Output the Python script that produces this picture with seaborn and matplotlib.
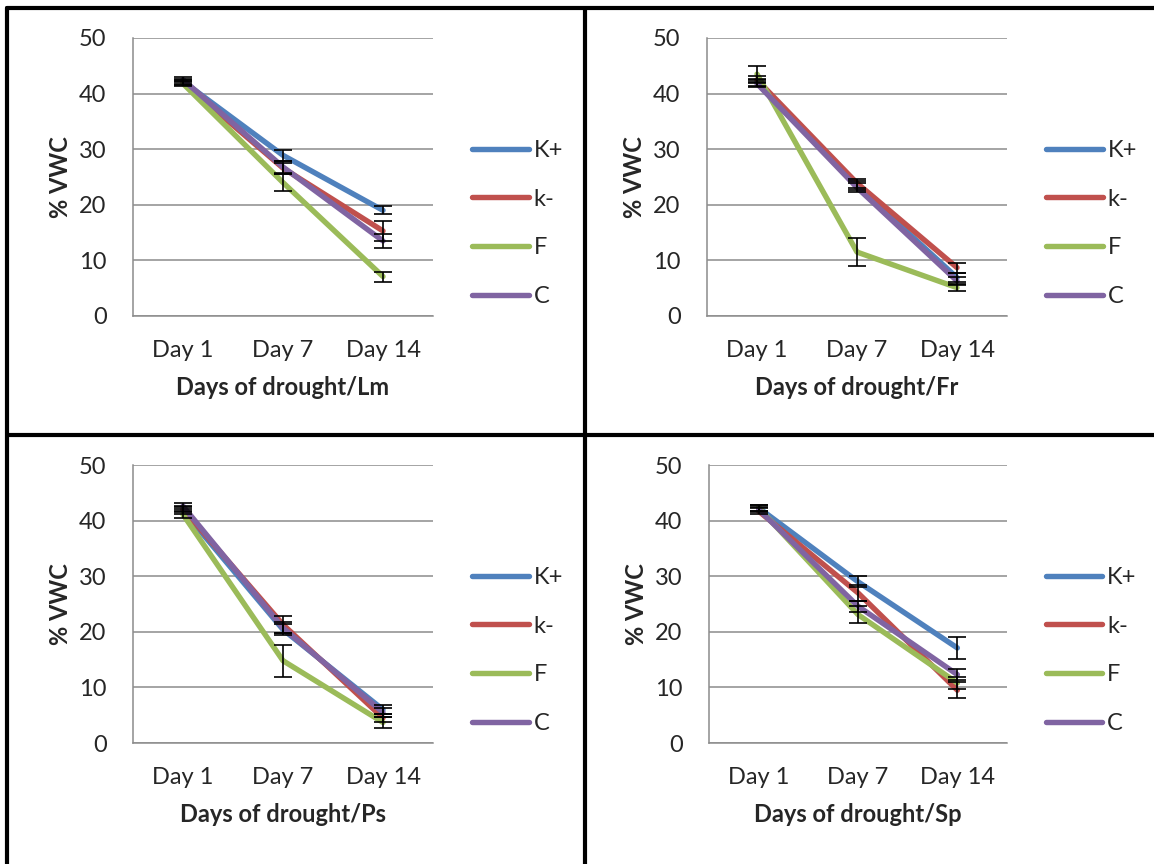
import numpy as np
import pandas as pd
import matplotlib
matplotlib.use("Agg")
import matplotlib.pyplot as plt
from matplotlib.lines import Line2D
import seaborn as sns

days = ["Day 1", "Day 7", "Day 14"]
treatments = ["K+", "k-", "F", "C"]
colors = ["#4F81BD", "#C0504D", "#9BBB59", "#8064A2"]
sites = ["Lm", "Fr", "Ps", "Sp"]

# Mean volumetric water content (%) per treatment (rows: K+, k-, F, C)
lm_vwc = [[42.2, 28.9, 19.0], [42.0, 26.6, 15.3], [41.8, 24.0, 7.1], [42.5, 26.8, 13.5]]
fr_vwc = [[42.0, 23.4, 6.9], [42.5, 23.9, 8.7], [43.5, 11.5, 5.1], [41.8, 23.1, 6.3]]
ps_vwc = [[41.8, 20.4, 6.0], [42.1, 21.3, 4.5], [41.1, 14.8, 3.7], [42.6, 20.7, 5.5]]
sp_vwc = [[42.3, 29.0, 17.1], [41.7, 27.0, 9.5], [42.3, 23.1, 10.8], [42.0, 24.6, 12.3]]

# Standard errors, same layout
lm_err = [[0.5, 1.0, 0.7], [0.5, 1.0, 1.8], [0.5, 1.5, 0.9], [0.5, 1.0, 1.2]]
fr_err = [[0.6, 0.8, 0.8], [0.6, 0.8, 0.9], [1.5, 2.5, 0.6], [0.6, 0.8, 0.8]]
ps_err = [[0.6, 1.0, 0.8], [0.6, 1.6, 0.8], [0.6, 2.9, 1.0], [0.6, 1.0, 0.8]]
sp_err = [[0.5, 1.0, 2.0], [0.5, 1.5, 1.4], [0.5, 1.6, 1.0], [0.5, 1.0, 1.0]]

panels = [(lm_vwc, lm_err), (fr_vwc, fr_err), (ps_vwc, ps_err), (sp_vwc, sp_err)]

sns.set_style("white")
plt.rcParams["font.family"] = ["Lato", "DejaVu Sans"]

W, H = 1154, 864
fig = plt.figure(figsize=(W / 100, H / 100), dpi=100)

# axes boxes in pixels: left, right, top, bottom
boxes = [(133, 433, 38, 316), (707, 1007, 38, 316),
         (133, 433, 465, 743), (709, 1007, 465, 743)]

grid_col = "#8C8C8C"
fs = 17

for (vwc, err), site, (l, r, t, b) in zip(panels, sites, boxes):
    ax = fig.add_axes([l / W, 1 - b / H, (r - l) / W, (b - t) / H])
    rows = []
    for ti, tr in enumerate(treatments):
        for di, d in enumerate(days):
            rows.append({"pos": di, "treatment": tr, "vwc": vwc[ti][di], "se": err[ti][di]})
    df = pd.DataFrame(rows)

    sns.lineplot(data=df, x="pos", y="vwc", hue="treatment", hue_order=treatments,
                 palette=colors, linewidth=3.9, sort=False, ax=ax,
                 solid_capstyle="round", solid_joinstyle="round")
    for ti, tr in enumerate(treatments):
        sub = df[df["treatment"] == tr]
        ax.errorbar(sub["pos"], sub["vwc"], yerr=sub["se"], fmt="none",
                    ecolor="black", elinewidth=1.2, capsize=6.5, capthick=1.2, zorder=5)

    ax.set_xlim(-0.5, 2.5)
    ax.set_ylim(0, 50)
    ax.set_yticks(np.arange(0, 51, 10))
    ax.set_xticks([-0.5, 0.5, 1.5, 2.5])
    ax.set_xticklabels([])
    ax.set_xticks(range(len(days)), minor=True)
    ax.set_xticklabels(days, minor=True)
    ax.tick_params(axis="x", which="major", length=5.5, width=1.1, color=grid_col, direction="out")
    ax.tick_params(axis="x", which="minor", length=0, pad=17, labelsize=fs)
    ax.tick_params(axis="y", length=5, width=1.1, color=grid_col, direction="out",
                   pad=14, labelsize=fs)
    ax.yaxis.grid(True, color=grid_col, linewidth=1.1)
    ax.set_axisbelow(True)
    for s in ["top", "right"]:
        ax.spines[s].set_visible(False)
    for s in ["left", "bottom"]:
        ax.spines[s].set_color(grid_col)
        ax.spines[s].set_linewidth(1.1)
    ax.set_xlabel(f"Days of drought/{site}", fontsize=fs, fontweight="bold", labelpad=11)
    ax.set_ylabel("% VWC", fontsize=fs, fontweight="bold", labelpad=5)

    sns.move_legend(ax, "center left", bbox_to_anchor=(1.13, 0.333), title=None,
                    frameon=False, fontsize=fs, handlelength=2.4, handletextpad=0.2,
                    labelspacing=1.17, borderpad=0, borderaxespad=0)
    for h in ax.get_legend().get_lines():
        h.set_linewidth(3.9)
        h.set_solid_capstyle("round")

# panel frame lines
frame_kw = dict(color="black", linewidth=3, transform=fig.transFigure)
fig.add_artist(Line2D([7 / W, 1], [1 - 8 / H, 1 - 8 / H], **frame_kw))
fig.add_artist(Line2D([7 / W, 7 / W], [0, 1 - 8 / H], **frame_kw))
fig.add_artist(Line2D([585 / W, 585 / W], [0, 1 - 8 / H], **frame_kw))
fig.add_artist(Line2D([7 / W, 1], [1 - 435 / H, 1 - 435 / H], **frame_kw))

fig.savefig("out.png", dpi=100)
